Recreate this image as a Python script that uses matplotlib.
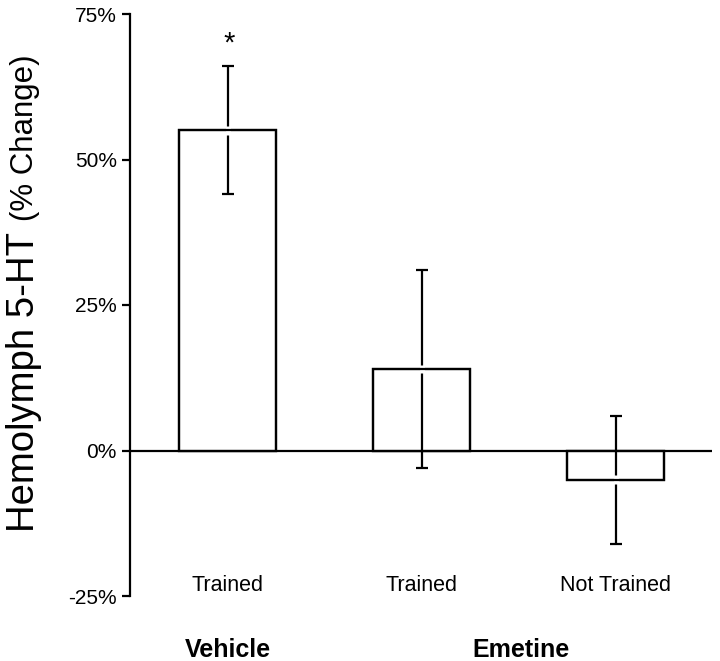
import matplotlib
matplotlib.use("Agg")
import matplotlib.pyplot as plt

conditions = ["Trained", "Trained", "Not Trained"]
groups = ["Vehicle", "Emetine"]
means = [55, 14, -5]
err_upper = [66, 31, 6]
err_lower = [44, -3, -16]
yticks = [-25, 0, 25, 50, 75]
ytick_labels = ["-25%", "0%", "25%", "50%", "75%"]

plt.rcParams['font.family'] = ['Liberation Sans', 'DejaVu Sans']

fig = plt.figure(figsize=(7.2, 6.61), dpi=100)
ax = fig.add_axes([130/720, 65/661, (712-130)/720, (596-14)/661])

x = list(range(len(means)))
lw = 1.6
bw = 0.5
ax.bar(x, means, width=bw, facecolor='white', edgecolor='black', linewidth=lw, zorder=2)
yerr_lo = [m - l for m, l in zip(means, err_lower)]
yerr_hi = [u - m for m, u in zip(means, err_upper)]
ax.errorbar(x, means, yerr=[yerr_lo, yerr_hi], fmt='none', ecolor='black',
            elinewidth=lw, capsize=4.5, capthick=lw, zorder=3)
# small white gap where the error line crosses the bar end
ax.vlines(x, [m - 0.75 for m in means], [m + 0.75 for m in means],
          color='white', linewidth=3.5, zorder=4)
ax.bar(x, means, width=bw, fill=False, edgecolor='black', linewidth=lw, zorder=5)
ax.axhline(0, color='black', linewidth=lw, zorder=1)

ax.text(x[0] + 0.005, err_upper[0] + 4.0, "*", ha='center', va='center', fontsize=21)

ax.set_xlim(-0.505, 2.495)
ax.set_ylim(-25, 75)
ax.set_yticks(yticks)
ax.set_yticklabels(ytick_labels, fontsize=15)
ax.set_xticks([])
for s in ['top', 'right', 'bottom']:
    ax.spines[s].set_visible(False)
ax.spines['left'].set_linewidth(lw)
ax.tick_params(axis='y', length=6, width=lw, pad=3.5)

for xi, lab in zip(x, conditions):
    ax.text(xi, -23.2, lab, ha='center', va='center', fontsize=15.5, clip_on=False)

fig.text(228/720, 1 - 650/661, groups[0], ha='center', va='center', fontsize=18, fontweight='bold')
fig.text(521/720, 1 - 650/661, groups[1], ha='center', va='center', fontsize=18, fontweight='bold')

fig.text(24/720, 1 - 532/661, "Hemolymph 5-HT", rotation=90, ha='center', va='bottom', fontsize=27.5)
fig.text(25/720, 1 - 221/661, "(% Change)", rotation=90, ha='center', va='bottom', fontsize=22.5)

fig.savefig("out.png", dpi=100)
